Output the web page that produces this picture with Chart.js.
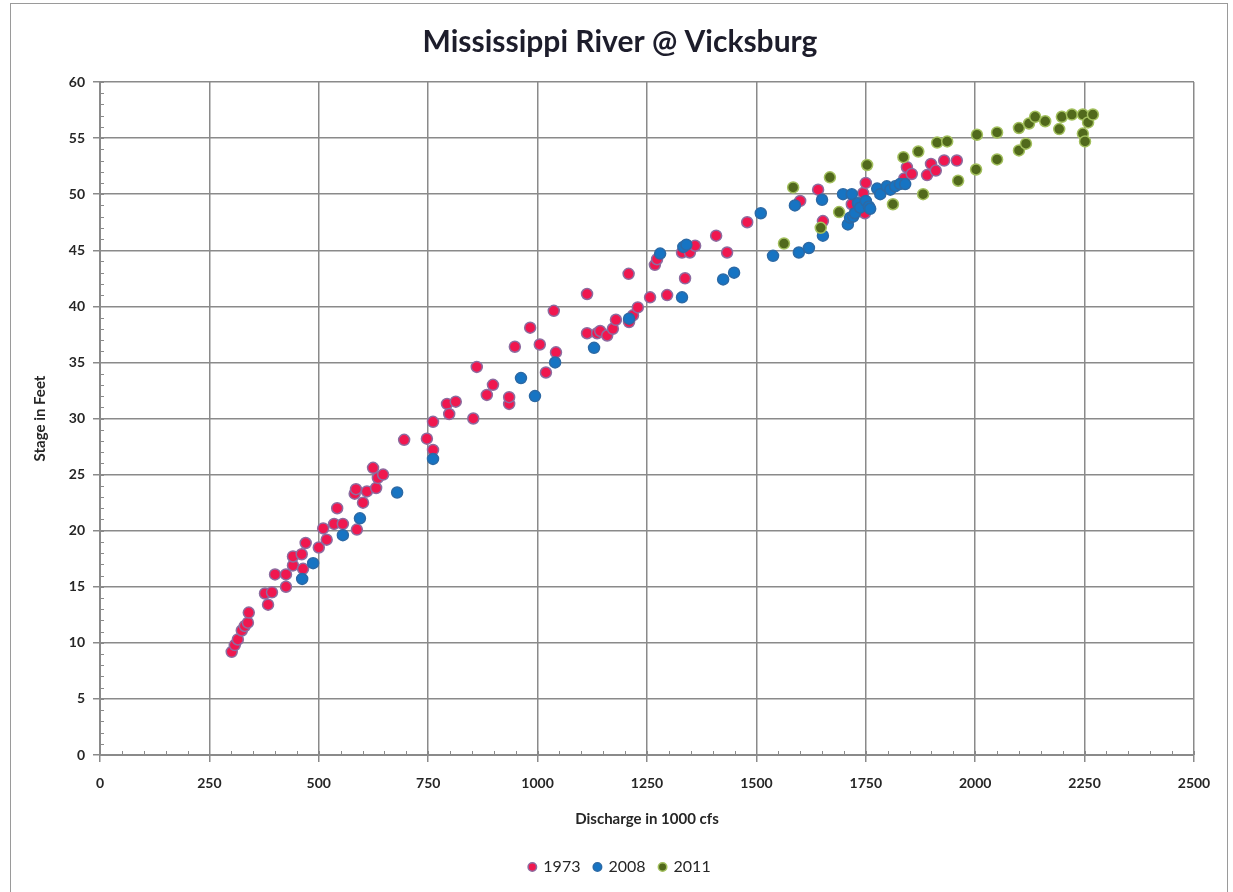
<!DOCTYPE html>
<html>
<head>
<meta charset="utf-8">
<script src="https://cdn.jsdelivr.net/npm/chart.js@4.4.1/dist/chart.umd.min.js"></script>
<style>
html,body{margin:0;padding:0;background:#fff;}
#wrap{position:relative;width:1233px;height:892px;}
</style>
</head>
<body>
<div id="wrap"><canvas id="c" width="1233" height="892"></canvas></div>
<script>
// ---- Data (discharge in 1000 cfs, stage in feet) ----
const seriesNames = ['1973', '2008', '2011'];

const q1973 = [301,308,315,324,331,338,340,377,384,393,400,425,425,441,441,461,464,470,500,510,518,535,542,555,582,585,587,601,610,624,631,635,647,695,747,761,761,793,798,813,853,861,884,898,935,935,948,983,1005,1019,1037,1042,1113,1113,1136,1143,1159,1172,1179,1208,1209,1218,1229,1257,1268,1273,1296,1330,1337,1348,1360,1408,1433,1479,1600,1641,1652,1718,1744,1748,1750,1838,1844,1855,1890,1899,1910,1929,1958];
const s1973 = [9.2,9.8,10.3,11.1,11.5,11.8,12.7,14.4,13.4,14.5,16.1,15.0,16.1,16.9,17.7,17.9,16.6,18.9,18.5,20.2,19.2,20.6,22.0,20.6,23.3,23.7,20.1,22.5,23.5,25.6,23.8,24.7,25.0,28.1,28.2,27.2,29.7,31.3,30.4,31.5,30.0,34.6,32.1,33.0,31.3,31.9,36.4,38.1,36.6,34.1,39.6,35.9,41.1,37.6,37.6,37.8,37.4,38.0,38.8,42.9,38.6,39.2,39.9,40.8,43.7,44.2,41.0,44.8,42.5,44.8,45.4,46.3,44.8,47.5,49.4,50.4,47.6,49.1,50.1,48.3,51.0,51.4,52.4,51.8,51.7,52.7,52.1,53.0,53.0];

const q2008 = [462,487,555,594,679,761,962,994,1040,1129,1209,1280,1330,1333,1340,1424,1449,1510,1538,1588,1597,1620,1650,1652,1698,1709,1714,1718,1721,1725,1732,1737,1750,1757,1760,1776,1783,1798,1806,1817,1828,1840];
const s2008 = [15.7,17.1,19.6,21.1,23.4,26.4,33.6,32.0,35.0,36.3,38.9,44.7,40.8,45.3,45.5,42.4,43.0,48.3,44.5,49.0,44.8,45.2,49.5,46.3,50.0,47.3,47.9,50.0,48.0,48.3,49.2,48.8,49.4,48.9,48.7,50.5,50.0,50.7,50.4,50.7,50.9,50.9];

const q2011 = [1563,1584,1647,1668,1689,1753,1812,1836,1870,1881,1913,1936,1961,2002,2004,2050,2050,2100,2100,2116,2123,2137,2160,2192,2198,2221,2246,2246,2251,2258,2269];
const s2011 = [45.6,50.6,47.0,51.5,48.4,52.6,49.1,53.3,53.8,50.0,54.6,54.7,51.2,52.2,55.3,53.1,55.5,53.9,55.9,54.5,56.3,56.9,56.5,55.8,56.9,57.1,57.1,55.4,54.7,56.4,57.1];

const xTickStep = 250, yTickStep = 5;
const xMax = 2500, yMax = 60;

function pts(q, s){ return q.map((v,i)=>({x:v, y:s[i]})); }

const FONT = 'Lato, "Open Sans", "DejaVu Sans", sans-serif';
const TXT = '#262626';
const GRID = '#8a8a8a';

const minorTicks = {
  id: 'minorTicks',
  afterDraw(chart){
    const {ctx, scales:{x, y}} = chart;
    ctx.save();
    ctx.strokeStyle = GRID;
    ctx.lineWidth = 1;
    ctx.beginPath();
    for (let v = 0; v <= yMax; v += 1){
      const py = Math.round(y.getPixelForValue(v)) + 0.5;
      ctx.moveTo(x.left, py); ctx.lineTo(x.left + 4, py);
    }
    for (let v = 0; v <= xMax; v += 50){
      const px = Math.round(x.getPixelForValue(v)) + 0.5;
      ctx.moveTo(px, y.bottom); ctx.lineTo(px, y.bottom - 4);
    }
    ctx.stroke();
    ctx.restore();
  }
};

const frame = {
  id: 'frame',
  afterDraw(chart){
    const ctx = chart.ctx;
    ctx.save();
    ctx.strokeStyle = '#9a9a9a';
    ctx.lineWidth = 1;
    ctx.strokeRect(10.5, 3.5, 1217, 900);
    ctx.restore();
  }
};

const plain = v => String(v);

new Chart(document.getElementById('c'), {
  type: 'scatter',
  data: {
    datasets: [
      { label: seriesNames[0], data: pts(q1973, s1973), order: 3,
        backgroundColor: '#f0174f', borderColor: '#8d6ca0', borderWidth: 1.5, pointRadius: 5.5, pointHoverRadius: 5.5 },
      { label: seriesNames[1], data: pts(q2008, s2008), order: 2,
        backgroundColor: '#1674c3', borderColor: '#2c6aa6', borderWidth: 1.5, pointRadius: 5.5, pointHoverRadius: 5.5 },
      { label: seriesNames[2], data: pts(q2011, s2011), order: 1,
        backgroundColor: '#51691c', borderColor: '#a3c05e', borderWidth: 1.5, pointRadius: 5.5, pointHoverRadius: 5.5 }
    ]
  },
  options: {
    responsive: false,
    animation: false,
    layout: { padding: { left: 10, right: 3, top: 0, bottom: 7 } },
    plugins: {
      tooltip: { enabled: false },
      title: {
        display: true,
        text: 'Mississippi River @ Vicksburg',
        color: '#1d1d2b',
        font: { family: FONT, size: 30, weight: 'bold' },
        padding: { top: 24, bottom: 22 }
      },
      legend: {
        position: 'bottom',
        labels: {
          sort: (a, b) => a.datasetIndex - b.datasetIndex,
          usePointStyle: true, pointStyle: 'circle',
          boxWidth: 6, boxHeight: 6,
          color: TXT,
          font: { family: FONT, size: 16 },
          padding: 14
        }
      }
    },
    scales: {
      x: {
        type: 'linear', min: 0, max: xMax,
        afterFit(s){ s.height = 90; },
        ticks: { stepSize: xTickStep, color: TXT, padding: 13, callback: plain,
                 font: { family: FONT, size: 14, weight: 'bold' } },
        grid: { color: GRID, lineWidth: 1.5, tickLength: 7, tickColor: GRID },
        border: { color: GRID, width: 2 },
        title: { display: true, text: 'Discharge in 1000 cfs', color: TXT,
                 font: { family: FONT, size: 15, weight: 'bold' }, padding: { top: 4, bottom: 17 } }
      },
      y: {
        type: 'linear', min: 0, max: yMax,
        afterFit(s){ s.width = 90; },
        ticks: { stepSize: yTickStep, color: TXT, padding: 8, callback: plain,
                 font: { family: FONT, size: 14, weight: 'bold' } },
        grid: { color: GRID, lineWidth: 1.5, tickLength: 7, tickColor: GRID },
        border: { color: GRID, width: 2 },
        title: { display: true, text: 'Stage in Feet', color: TXT,
                 font: { family: FONT, size: 15, weight: 'bold' }, padding: { top: 21, bottom: 4 } }
      },
      yRightSpace: {
        type: 'linear', position: 'right', min: 0, max: yMax,
        afterFit(s){ s.width = 36; },
        ticks: { display: false },
        grid: { display: false, drawTicks: false },
        border: { display: false }
      }
    }
  },
  plugins: [minorTicks, frame]
});
</script>
</body>
</html>
